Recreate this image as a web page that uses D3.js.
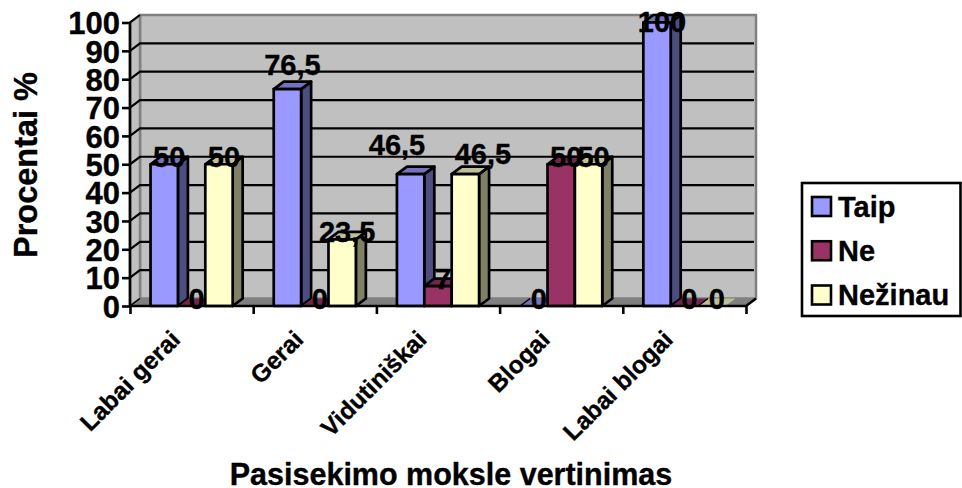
<!DOCTYPE html>
<html><head><meta charset="utf-8">
<script src="https://cdnjs.cloudflare.com/ajax/libs/d3/7.8.5/d3.min.js"></script>
<style>
html,body{margin:0;padding:0;background:#fff}
svg{display:block}
text{font-family:"Liberation Sans",Arial,sans-serif;font-weight:700;fill:#000;stroke:#000;stroke-width:0.35px}
</style></head><body><svg id="c" width="962" height="488"></svg>
<script>
const categories=["Labai gerai","Gerai","Vidutiniškai","Blogai","Labai blogai"];
const seriesNames=["Taip","Ne","Nežinau"];
const taip=[50,76.5,46.5,0,100];
const ne=[0,0,7,50,0];
const nezinau=[50,23.5,46.5,50,0];
const yTicks=[0,10,20,30,40,50,60,70,80,90,100];
const faces=[["#9999FF","#7373BF","#4D4D80"],["#993366","#73264D","#4D1A33"],["#FFFFCC","#BFBF99","#808066"]];
// label shifts, keyed category-series
const nudges={"2-0":[-18.6,-22],"2-2":[12.5,-13],"1-0":[0,-17.5],"4-0":[0,6.5]};

const seriesValues=[taip,ne,nezinau];
const svg=d3.select("#c");
const L=130,R=746,B=306,T=22.5,DX=10,DY=-7.5;
const x=d3.scaleBand().domain(categories).range([L,R]).paddingInner(1/3).paddingOuter(1/6);
const x1=d3.scaleBand().domain(seriesNames).range([0,x.bandwidth()]);
const y=d3.scaleLinear().domain([0,100]).range([B,T]);
const poly=(pts,fill,stroke,w)=>svg.append("polygon").attr("points",pts.map(p=>p.join(",")).join(" ")).attr("fill",fill).attr("stroke",stroke).attr("stroke-width",w).attr("stroke-linejoin","round");

// walls
poly([[L+DX,T+DY],[R+DX,T+DY],[R+DX,B+DY],[L+DX,B+DY]],"#C0C0C0","#808080",2.5);
poly([[L,T],[L+DX,T+DY],[L+DX,B+DY],[L,B]],"#C0C0C0","#808080",2.5);
poly([[L,B],[L+DX,B+DY],[R+DX,B+DY],[R,B]],"#808080","#808080",1);
// grid
yTicks.filter(t=>t>0&&t<100).forEach(t=>{
  svg.append("path").attr("d",d3.line()([[L,y(t)],[L+DX,y(t)+DY],[R+DX-2,y(t)+DY]])).attr("fill","none").attr("stroke","#000").attr("stroke-width",2.2);
});
svg.append("path").attr("d",d3.line()([[L,T],[L+DX,T+DY]])).attr("stroke","#000").attr("stroke-width",2);
svg.append("path").attr("d",d3.line()([[L,B],[L+DX,B+DY]])).attr("stroke","#000").attr("stroke-width",1.5);

// bars
categories.forEach((c,i)=>{
  seriesNames.forEach((s,j)=>{
    const v=seriesValues[j][i];
    const x0=x(c)+x1(s),w=x1.bandwidth(),yt=y(v),f=faces[j];
    const sw=2.7;
    if(v>0){
      poly([[x0+w,yt],[x0+w+DX,yt+DY],[x0+w+DX,B+DY],[x0+w,B]],f[2],"#000",sw);
    }
    poly([[x0,yt],[x0+DX,yt+DY],[x0+w+DX,yt+DY],[x0+w,yt]],f[1],v>0?"#000":"none",sw);
    if(v>0) poly([[x0,yt],[x0+w,yt],[x0+w,B],[x0,B]],f[0],"#000",sw);
    else svg.append("path").attr("d",d3.line()([[x0,yt],[x0+DX,yt+DY]])).attr("stroke","#000").attr("stroke-width",1.5);
  });
});

// axes
const ax=svg.append("g").attr("transform",`translate(${L},0)`).call(d3.axisLeft(y).tickValues(yTicks).tickSize(8).tickPadding(2));
ax.selectAll("text").attr("font-size",31).attr("dy","0.36em");
ax.selectAll("line,path").attr("stroke","#000").attr("stroke-width",2.6);
ax.select("path").attr("d",`M0,${T}V${B}`);
const bx=svg.append("g").attr("transform",`translate(0,${B})`).call(
  d3.axisBottom(d3.scalePoint().domain(d3.range(6)).range([L,R])).tickSize(8).tickFormat(""));
bx.selectAll("line,path").attr("stroke","#000").attr("stroke-width",2.6);
bx.select("path").attr("d",`M${L},0H${R}L${R+DX},${DY}`);

// data labels
categories.forEach((c,i)=>{
  seriesNames.forEach((s,j)=>{
    const v=seriesValues[j][i],n=nudges[i+"-"+j]||[0,0];
    const lx=x(c)+x1(s)+x1.bandwidth()/2+5+n[0],ly=y(v)+3+n[1];
    svg.append("text").attr("x",lx).attr("y",ly).attr("text-anchor","middle").attr("font-size",29).text(String(v).replace(".",","));
  });
});

// category labels
categories.forEach(c=>{
  const cx=x(c)+x.bandwidth()/2;
  svg.append("text").attr("transform",`translate(${cx-10},341) rotate(-45)`).attr("text-anchor","end").attr("font-size",24.5).text(c);
});

// titles
svg.append("text").attr("x",451).attr("y",485).attr("text-anchor","middle").attr("font-size",30.5).text("Pasisekimo moksle vertinimas");
svg.append("text").attr("transform","translate(36.5,165) rotate(-90)").attr("text-anchor","middle").attr("font-size",32.5).text("Procentai %");

// legend
svg.append("rect").attr("x",802).attr("y",183).attr("width",158.5).attr("height",133).attr("fill","#fff").attr("stroke","#000").attr("stroke-width",2.6);
const ly=d3.scalePoint().domain(seriesNames).range([206.5,295]);
seriesNames.forEach((s,j)=>{
  svg.append("rect").attr("x",812).attr("y",ly(s)-9.5).attr("width",19).attr("height",19).attr("fill",faces[j][0]).attr("stroke","#000").attr("stroke-width",2.6);
  svg.append("text").attr("x",838).attr("y",ly(s)+10).attr("font-size",29).text(s);
});
</script></body></html>
